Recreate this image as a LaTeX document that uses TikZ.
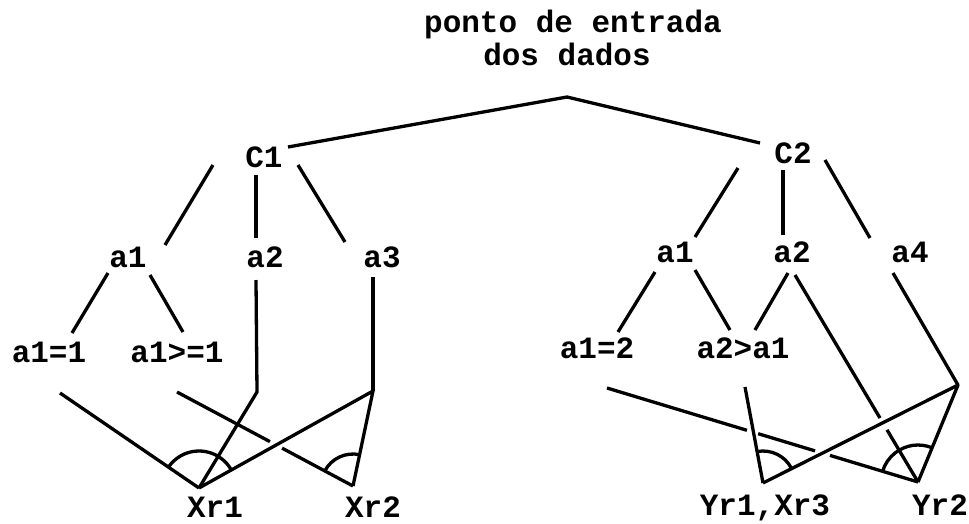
\documentclass[tikz,border=0pt]{standalone}
\usepackage{fontspec}
\setmainfont{Liberation Mono}
\usetikzlibrary{calc}
\begin{document}
\begin{tikzpicture}[x=1pt,y=-1pt,
  lbl/.style={font=\fontsize{31}{31}\selectfont\bfseries, inner sep=0pt, anchor=base},
  edge/.style={line width=3.3pt, line join=round}]
\useasboundingbox (0,0) rectangle (969,523);
% text nodes
\node[lbl] (t1) at (573,32) {ponto de entrada};
\node[lbl] (t2) at (567,65) {dos dados};
\node[lbl] (C1) at (264,167) {C1};
\node[lbl] (C2) at (793,163) {C2};
\node[lbl] (a1L) at (128,267) {a1};
\node[lbl] (a2L) at (265,267) {a2};
\node[lbl] (a3L) at (382,267) {a3};
\node[lbl] (e11) at (49,362) {a1=1};
\node[lbl] (e12) at (177,362) {a1>=1};
\node[lbl] (a1R) at (675,262) {a1};
\node[lbl] (a2R) at (792,262) {a2};
\node[lbl] (a4R) at (910,262) {a4};
\node[lbl] (f1) at (597,358) {a1=2};
\node[lbl] (f2) at (743,358) {a2>a1};
\node[lbl] (xr1) at (215,517) {Xr1};
\node[lbl] (xr2) at (373,517) {Xr2};
\node[lbl] (yr1) at (765,515) {Yr1,Xr3};
\node[lbl] (yr2) at (940,515) {Yr2};
% junction coordinates
\coordinate (P) at (567,97);
\coordinate (pC1) at (288,147);
\coordinate (pC2) at (760,143);
\coordinate (c1a) at (213,165); \coordinate (a1t) at (165,245);
\coordinate (c1b) at (256,175); \coordinate (a2t) at (256,238);
\coordinate (c1c) at (298,165); \coordinate (a3t) at (345,242);
\coordinate (a1a) at (108,273); \coordinate (e11t) at (72,333);
\coordinate (a1b) at (150,275); \coordinate (e12t) at (183,332);
\coordinate (a2b) at (256,280); \coordinate (a2m) at (257,392);
\coordinate (a3b) at (373,277); \coordinate (a3m) at (373,391);
\coordinate (e11b) at (60,393);
\coordinate (e12b) at (177,392);
\coordinate (X1) at (199,488);
\coordinate (X2) at (353,486);
\coordinate (c2a) at (738,168); \coordinate (b1t) at (695,237);
\coordinate (c2b) at (783,170); \coordinate (b2t) at (783,235);
\coordinate (c2c) at (825,160); \coordinate (b4t) at (870,238);
\coordinate (b1a) at (655,272); \coordinate (f1t) at (618,332);
\coordinate (b1b) at (695,270); \coordinate (f2t) at (730,330);
\coordinate (b2a) at (788,273); \coordinate (f2u) at (755,330);
\coordinate (b2b) at (795,275);
\coordinate (b4b) at (893,273); \coordinate (b4m) at (958,385);
\coordinate (f2b) at (745,387);
\coordinate (f1b) at (607,388);
\coordinate (Y1) at (763,483);
\coordinate (Y2) at (918,482);
% tree edges
\draw[edge] (pC1) -- (P) -- (pC2);
\draw[edge] (c1a) -- (a1t);
\draw[edge] (c1b) -- (a2t);
\draw[edge] (c1c) -- (a3t);
\draw[edge] (a1a) -- (e11t);
\draw[edge] (a1b) -- (e12t);
\draw[edge] (c2a) -- (b1t);
\draw[edge] (c2b) -- (b2t);
\draw[edge] (c2c) -- (b4t);
\draw[edge] (b1a) -- (f1t);
\draw[edge] (b1b) -- (f2t);
\draw[edge] (b2a) -- (f2u);
% left result lines
\draw[edge] (a2b) -- (a2m) -- (X1);
\draw[edge] (a3b) -- (a3m);
\draw[edge] (X1) -- (a3m) -- (X2);
\draw[edge] (e11b) -- (X1);
\draw[edge] (e12b) -- ($(e12b)!0.528!(X2)$);
\draw[edge] ($(e12b)!0.597!(X2)$) -- (X2);
\draw[edge] ($(X1)+(29:37pt)$) arc[start angle=29, end angle=146, radius=37pt];
\draw[edge] ($(X2)+(78:32pt)$) arc[start angle=78, end angle=152, radius=32pt];
% right result lines
\draw[edge] (b2b) -- ($(b2b)!0.691!(Y2)$);
\draw[edge] ($(b2b)!0.748!(Y2)$) -- (Y2);
\draw[edge] (b4b) -- (b4m);
\draw[edge] (Y1) -- (b4m) -- (Y2);
\draw[edge] (f2b) -- (Y1);
\draw[edge] (f1b) -- ($(f1b)!0.450!(Y2)$);
\draw[edge] ($(f1b)!0.486!(Y2)$) -- ($(f1b)!0.669!(Y2)$);
\draw[edge] ($(f1b)!0.717!(Y2)$) -- (Y2);
\draw[edge] ($(Y1)+(27:32pt)$) arc[start angle=27, end angle=101, radius=32pt];
\draw[edge] ($(Y2)+(68:37pt)$) arc[start angle=68, end angle=163, radius=37pt];
\end{tikzpicture}
\end{document}
